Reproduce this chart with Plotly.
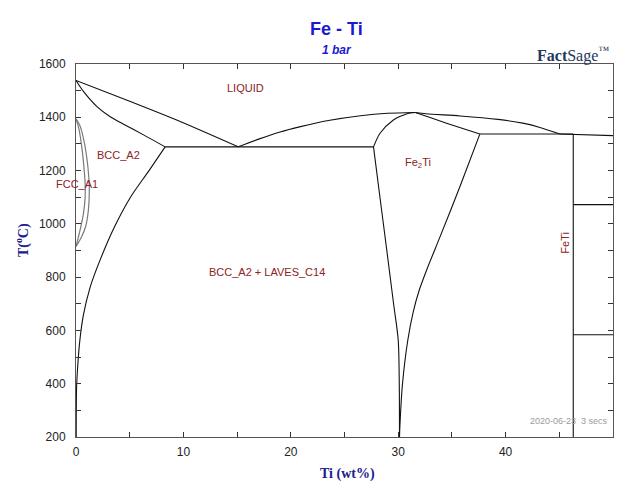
import plotly.graph_objects as go

# ---- data (wt% Ti, T in deg C) ----
liq_fe_x = [0, 5, 9.7, 15.1]
liq_fe_t = [1538, 1460, 1384, 1289]
liq_mid_x = [15.1, 17, 19, 20.9, 23.5, 26.5, 29, 31.6]
liq_mid_t = [1289, 1318, 1345, 1365, 1388, 1406, 1415, 1418]
liq_ti_x = [31.6, 32.6, 35.75, 39.3, 41.6, 43.2, 45.06]
liq_ti_t = [1418, 1413, 1405, 1392, 1378, 1362, 1337]
liq_end_x = [45.06, 46.3, 50]
liq_end_t = [1337, 1335, 1331]

bcc_sol_x = [0, 0.71, 1.95, 3.19, 4.43, 6.29, 8.3]
bcc_sol_t = [1538, 1496, 1440, 1402, 1374, 1334, 1289]
eut_x = [8.3, 27.7]
eut_t = [1289, 1289]
bcc_solv_x = [8.3, 6.8, 5.1, 3.6, 2.2, 1.3, 0.7, 0.35, 0.15, 0.05, 0.02]
bcc_solv_t = [1289, 1200, 1102, 990, 860, 760, 660, 560, 460, 380, 200]

fe2ti_lu_x = [31.6, 31.1, 30.48, 29.55, 28.31, 27.7]
fe2ti_lu_t = [1418, 1416, 1408, 1390, 1340, 1289]
fe2ti_ll_x = [27.7, 28.3, 28.94, 29.57, 30.0, 30.1, 30.12]
fe2ti_ll_t = [1289, 1100, 900, 700, 565, 400, 200]
fe2ti_ru_x = [31.6, 31.8, 34.5, 37.6]
fe2ti_ru_t = [1418, 1415, 1378, 1337]
fe2ti_rl_x = [37.6, 35.75, 33.9, 32.65, 31.95, 31.4, 30.9, 30.4, 30.17, 30.12]
fe2ti_rl_t = [1337, 1140, 952, 827, 750, 670, 565, 400, 253, 200]

perit_x = [37.6, 46.3]
perit_t = [1337, 1337]
feti_x = [46.3, 46.3]
feti_t = [1337, 200]
h1_x = [46.3, 50]
h1_t = [1072, 1072]
h2_x = [46.3, 50]
h2_t = [584, 584]

gam_out_x = [0, 0.35, 0.7, 1.0, 1.2, 1.24, 1.15, 0.9, 0.5, 0]
gam_out_t = [1394, 1370, 1320, 1250, 1170, 1120, 1050, 990, 950, 915]
gam_in_x = [0, 0.25, 0.5, 0.7, 0.85, 0.85, 0.7, 0.4, 0]
gam_in_t = [1394, 1360, 1300, 1230, 1150, 1100, 1040, 980, 915]

x_ticks = [0, 10, 20, 30, 40, 50]
y_ticks = [200, 400, 600, 800, 1000, 1200, 1400, 1600]

fig = go.Figure()
curves = [
    (liq_fe_x, liq_fe_t), (liq_mid_x, liq_mid_t), (liq_ti_x, liq_ti_t),
    (bcc_sol_x, bcc_sol_t), (bcc_solv_x, bcc_solv_t),
    (fe2ti_lu_x, fe2ti_lu_t), (fe2ti_ll_x, fe2ti_ll_t),
    (fe2ti_ru_x, fe2ti_ru_t), (fe2ti_rl_x, fe2ti_rl_t),
]
straight = [
    (liq_end_x, liq_end_t), (eut_x, eut_t), (perit_x, perit_t),
    (feti_x, feti_t), (h1_x, h1_t), (h2_x, h2_t),
]
for xs, ts in curves:
    fig.add_trace(go.Scatter(x=xs, y=ts, mode="lines",
                             line=dict(color="#111111", width=1.1, shape="spline", smoothing=0.8),
                             hoverinfo="skip", showlegend=False))
for xs, ts in straight:
    fig.add_trace(go.Scatter(x=xs, y=ts, mode="lines",
                             line=dict(color="#111111", width=1.1),
                             hoverinfo="skip", showlegend=False))
for xs, ts in [(gam_out_x, gam_out_t), (gam_in_x, gam_in_t)]:
    fig.add_trace(go.Scatter(x=xs, y=ts, mode="lines",
                             line=dict(color="#7a7a7a", width=1.2, shape="spline"),
                             hoverinfo="skip", showlegend=False))

lab = dict(family="Arial, Liberation Sans", size=11, color="#8B2323")
ann = [
    dict(x=15.8, y=1510, text="LIQUID", xref="x", yref="y", showarrow=False, font=lab),
    dict(x=4.0, y=1258, text="BCC_A2", xref="x", yref="y", showarrow=False, font=lab),
    dict(x=0.05, y=1150, text="FCC_A1", xref="x", yref="y", showarrow=False, font=lab),
    dict(x=31.8, y=1229, text="Fe<sub>2</sub>Ti", xref="x", yref="y", showarrow=False, font=lab),
    dict(x=17.8, y=820, text="BCC_A2 + LAVES_C14", xref="x", yref="y", showarrow=False, font=lab),
    dict(x=45.5, y=928, text="FeTi", xref="x", yref="y", showarrow=False, font=lab, textangle=-90),
    dict(x=0.994, y=0.024, text="2020-06-23  3 secs", xref="paper", yref="paper", showarrow=False,
         xanchor="right", font=dict(family="Arial, Liberation Sans", size=9, color="#9a9a9a")),
    dict(x=0.486, y=1.126, text="<b>Fe - Ti</b>", xref="paper", yref="paper", showarrow=False,
         xanchor="center", font=dict(family="Arial, Liberation Sans", size=18, color="#1a1ad0")),
    dict(x=0.486, y=1.062, text="<b><i>1 bar</i></b>", xref="paper", yref="paper", showarrow=False,
         xanchor="center", font=dict(family="Arial, Liberation Sans", size=12, color="#1a1ad0")),
    dict(x=0.925, y=1.059, text="<b>Fact</b>Sage<sup>™</sup>", xref="paper", yref="paper", showarrow=False,
         xanchor="center", font=dict(family="Liberation Serif, DejaVu Serif", size=16, color="#24385c")),
    dict(x=-0.1006, y=0.528, text="<b>T(<sup>o</sup>C)</b>", xref="paper", yref="paper", showarrow=False,
         xanchor="center", yanchor="middle", textangle=-90,
         font=dict(family="Liberation Serif, Times New Roman", size=14, color="#20208a")),
    dict(x=0.505, y=-0.099, text="<b>Ti (wt%)</b>", xref="paper", yref="paper", showarrow=False,
         xanchor="center", yanchor="middle",
         font=dict(family="Liberation Serif, Times New Roman", size=14, color="#20208a")),
]

axis_common = dict(showgrid=False, zeroline=False, showline=True, linecolor="#555555",
                   linewidth=1, mirror="ticks", ticks="inside", ticklen=5, tickcolor="#333333",
                   tickfont=dict(family="Arial, Liberation Sans", size=12, color="#222222"))
fig.update_layout(
    width=617, height=484,
    margin=dict(l=76, r=4, t=64, b=47),
    paper_bgcolor="white", plot_bgcolor="white",
    xaxis=dict(range=[0, 50], tickvals=x_ticks, ticktext=[str(v) for v in x_ticks],
               ticklabelstandoff=4,
               minor=dict(dtick=5, ticks="inside", ticklen=5, tickcolor="#333333"), **axis_common),
    yaxis=dict(range=[200, 1600], tickvals=y_ticks, ticktext=[str(v) for v in y_ticks],
               ticklabelstandoff=7,
               minor=dict(dtick=100, ticks="inside", ticklen=5, tickcolor="#333333"), **axis_common),
    annotations=ann,
)
fig.write_html("out.html")
